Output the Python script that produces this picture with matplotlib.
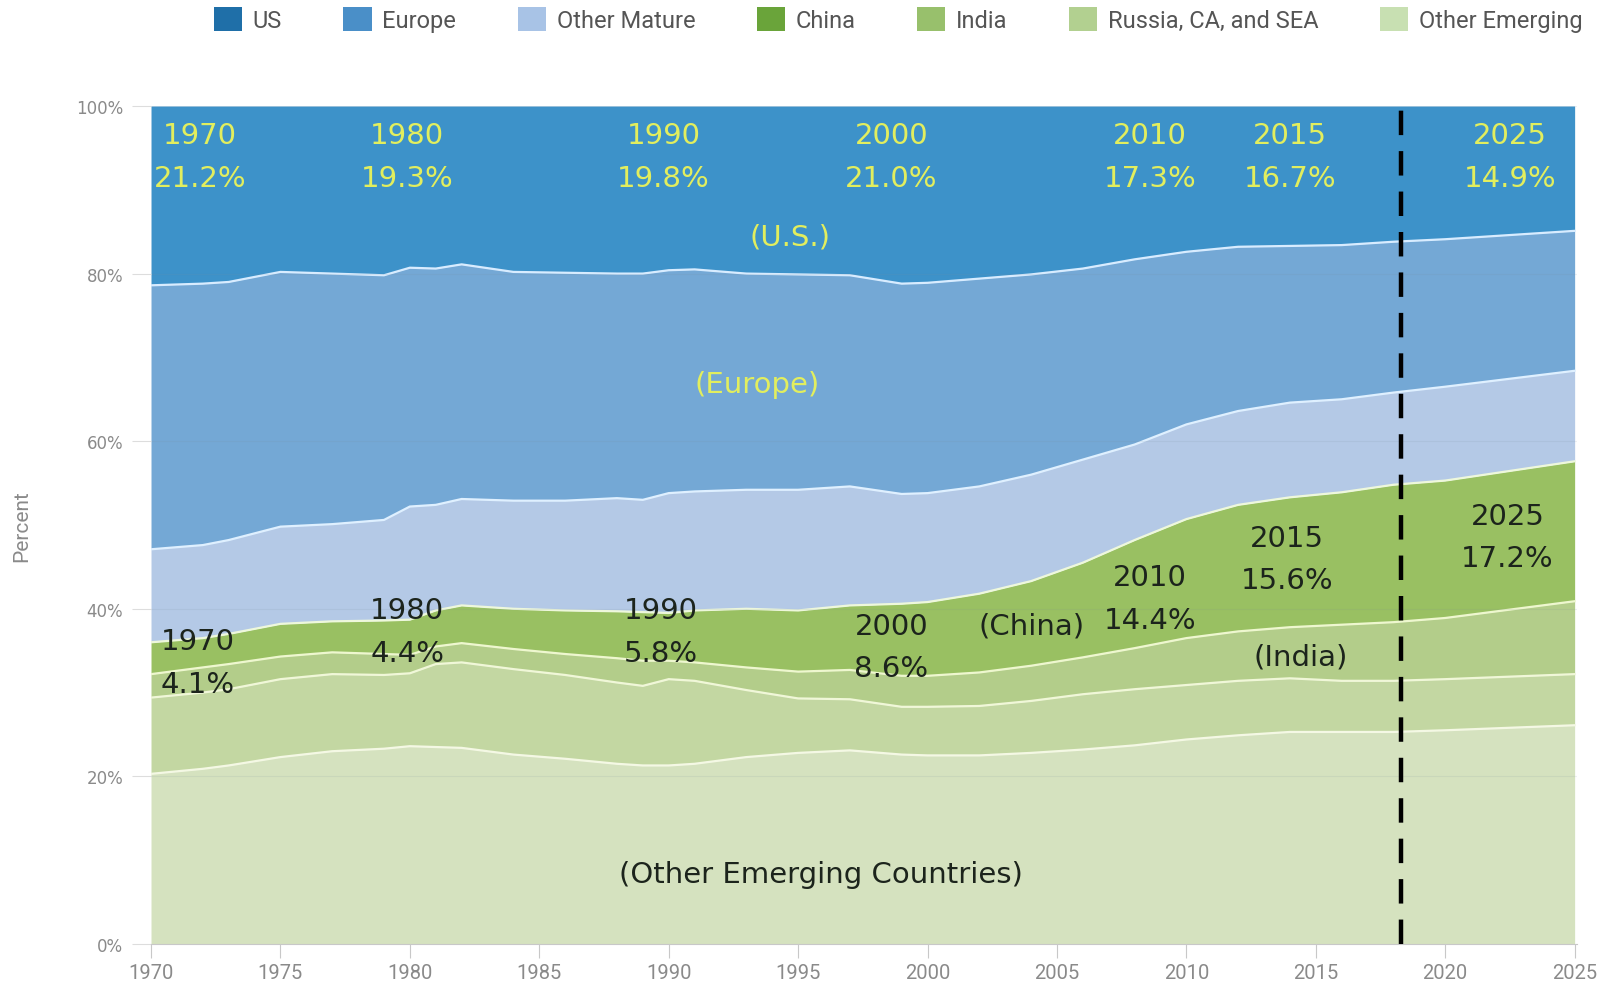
import matplotlib
matplotlib.use("Agg")
import matplotlib.pyplot as plt
from matplotlib.patches import Patch
import numpy as np

years = [1970, 1972, 1973, 1975, 1977, 1979, 1980, 1981, 1982, 1984, 1986, 1988, 1989, 1990, 1991,
         1993, 1995, 1997, 1999, 2000, 2002, 2004, 2006, 2008, 2010, 2012, 2014, 2016, 2018, 2020, 2025]

other_emerging = [20.3, 20.9, 21.3, 22.3, 23.0, 23.3, 23.6, 23.5, 23.4, 22.6, 22.1, 21.5, 21.3, 21.3, 21.5,
                  22.3, 22.8, 23.1, 22.6, 22.5, 22.5, 22.8, 23.2, 23.7, 24.4, 24.9, 25.3, 25.3, 25.3, 25.5, 26.1]
russia_ca_sea = [9.1, 9.1, 9.1, 9.3, 9.2, 8.8, 8.7, 9.9, 10.2, 10.2, 10.0, 9.7, 9.5, 10.3, 9.9,
                 8.0, 6.5, 6.1, 5.7, 5.8, 5.9, 6.2, 6.6, 6.7, 6.5, 6.5, 6.4, 6.1, 6.1, 6.1, 6.1]
india = [2.8, 3.0, 3.0, 2.7, 2.6, 2.5, 2.2, 2.1, 2.3, 2.4, 2.5, 2.9, 3.0, 2.2, 2.2,
         2.7, 3.2, 3.5, 3.7, 3.7, 4.0, 4.2, 4.4, 4.9, 5.6, 5.9, 6.1, 6.7, 7.0, 7.3, 8.7]
china = [3.8, 3.5, 3.6, 3.9, 3.7, 4.0, 4.2, 4.3, 4.5, 4.8, 5.2, 5.6, 5.8, 5.7, 6.2,
         7.0, 7.3, 7.7, 8.6, 8.8, 9.4, 10.1, 11.3, 12.9, 14.2, 15.1, 15.5, 15.8, 16.4, 16.4, 16.7]
other_mature = [11.1, 11.1, 11.2, 11.6, 11.6, 12.0, 13.5, 12.6, 12.7, 12.9, 13.1, 13.5, 13.4, 14.3, 14.2,
                14.2, 14.4, 14.2, 13.1, 13.0, 12.8, 12.7, 12.3, 11.4, 11.3, 11.2, 11.3, 11.1, 11.0, 11.2, 10.8]
europe = [31.5, 31.2, 30.8, 30.4, 29.9, 29.2, 28.5, 28.2, 28.0, 27.3, 27.2, 26.8, 27.0, 26.6, 26.5,
          25.8, 25.7, 25.2, 25.1, 25.1, 24.8, 23.9, 22.8, 22.1, 20.6, 19.6, 18.7, 18.4, 18.0, 17.6, 16.7]
us = [21.4, 21.2, 21.0, 19.8, 20.0, 20.2, 19.3, 19.4, 18.9, 19.8, 19.9, 20.0, 20.0, 19.6, 19.5,
      20.0, 20.1, 20.2, 21.2, 21.1, 20.6, 20.1, 19.4, 18.3, 17.4, 16.8, 16.7, 16.6, 16.2, 15.9, 14.9]

legend_labels = ["US", "Europe", "Other Mature", "China", "India", "Russia, CA, and SEA", "Other Emerging"]
x_ticks = [1970, 1975, 1980, 1985, 1990, 1995, 2000, 2005, 2010, 2015, 2020, 2025]
y_ticks = [0, 20, 40, 60, 80, 100]
y_ticklabels = ["0%", "20%", "40%", "60%", "80%", "100%"]
forecast_year = 2018.3

us_labels = [(1971.9, "1970", "21.2%"), (1979.9, "1980", "19.3%"), (1989.8, "1990", "19.8%"),
             (1998.6, "2000", "21.0%"), (2008.6, "2010", "17.3%"), (2014.0, "2015", "16.7%"),
             (2022.5, "2025", "14.9%")]
china_labels = [(1971.8, 36.1, "1970", "4.1%"), (1979.9, 39.8, "1980", "4.4%"), (1989.7, 39.8, "1990", "5.8%"),
                (1998.6, 38.0, "2000", "8.6%"), (2008.6, 43.8, "2010", "14.4%"), (2013.9, 48.5, "2015", "15.6%"),
                (2022.4, 51.1, "2025", "17.2%")]

series = [other_emerging, russia_ca_sea, india, china, other_mature, europe, us]
area_colors = ["#d5e2bf", "#c3d7a2", "#b3cd8a", "#99c062", "#b4c9e6", "#74a8d5", "#3d92c9"]
legend_colors = ["#1f6fa8", "#4a8fc8", "#a8c3e6", "#6aa43a", "#98c06c", "#b2d090", "#c8e0b2"]
line_colors = ["#f4f8e4", "#f0f7d8", "#eef7cf", "#eef8dc", "#dff0ff", "#d8ecff"]

fig = plt.figure(figsize=(15.98, 9.87), dpi=100)
ax = fig.add_axes([0.0945, 0.0426, 0.8925, 0.849])

x = np.array(years, dtype=float)
cum = np.zeros(len(years))
tops = []
for vals, col in zip(series, area_colors):
    v = np.array(vals, dtype=float)
    ax.fill_between(x, cum, cum + v, color=col, lw=0, zorder=1)
    cum = cum + v
    tops.append(cum.copy())
for t, lc in zip(tops[:-1], line_colors):
    ax.plot(x, t, color=lc, lw=1.6, zorder=2)

for yv in y_ticks[1:]:
    ax.axhline(yv, color="#7a8a9a", lw=0.8, alpha=0.12, zorder=3)

ax.axvline(forecast_year, ymin=0, ymax=1, color="black", lw=3.2, dashes=(5.5, 3.6), zorder=4)

ax.set_xlim(1970, 2025.1)
ax.set_ylim(0, 100)
ax.set_xticks(x_ticks)
ax.set_xticklabels([str(t) for t in x_ticks])
ax.set_yticks(y_ticks)
ax.set_yticklabels(y_ticklabels)
for s in ["top", "right", "left"]:
    ax.spines[s].set_visible(False)
ax.spines["bottom"].set_color("#c8c8c8")
ax.tick_params(axis="x", colors="#c8c8c8", length=10, labelcolor="#8a8a8a", labelsize=14.5, pad=4)
ax.tick_params(axis="y", colors="#dddddd", length=14, labelcolor="#8a8a8a", labelsize=12, pad=6)
ax.set_ylabel("Percent", color="#8a8a8a", fontsize=15, fontfamily="Roboto", labelpad=32)
for lab in ax.get_xticklabels():
    lab.set_fontfamily("Roboto")

yellow = "#e2ee5e"
dark = "#1c241c"
fs = 21
gap = 5.1
for xx, yr, pct in us_labels:
    ax.text(xx, 96.5, yr, color=yellow, fontsize=fs, ha="center", va="center", zorder=5)
    ax.text(xx, 96.5 - gap, pct, color=yellow, fontsize=fs, ha="center", va="center", zorder=5)
ax.text(1994.7, 84.4, "(U.S.)", color=yellow, fontsize=fs, ha="center", va="center", zorder=5)
ax.text(1993.4, 66.8, "(Europe)", color=yellow, fontsize=fs, ha="center", va="center", zorder=5)

for xx, yy, yr, pct in china_labels:
    ax.text(xx, yy, yr, color=dark, fontsize=fs, ha="center", va="center", zorder=5)
    ax.text(xx, yy - gap, pct, color=dark, fontsize=fs, ha="center", va="center", zorder=5)
ax.text(2004.0, 38.0, "(China)", color=dark, fontsize=fs, ha="center", va="center", zorder=5)
ax.text(2014.4, 34.3, "(India)", color=dark, fontsize=fs, ha="center", va="center", zorder=5)
ax.text(1995.9, 8.4, "(Other Emerging Countries)", color=dark, fontsize=fs, ha="center", va="center", zorder=5)

handles = [Patch(facecolor=c, edgecolor="none") for c in legend_colors]
leg = fig.legend(handles, legend_labels, loc="center", bbox_to_anchor=(0.562, 0.979), ncol=7,
                 frameon=False, handlelength=1.2, handleheight=1.2, handletextpad=0.45,
                 columnspacing=2.6, prop={"family": "Roboto", "size": 17})
for t in leg.get_texts():
    t.set_color("#555555")

fig.savefig("out.png", dpi=100)
